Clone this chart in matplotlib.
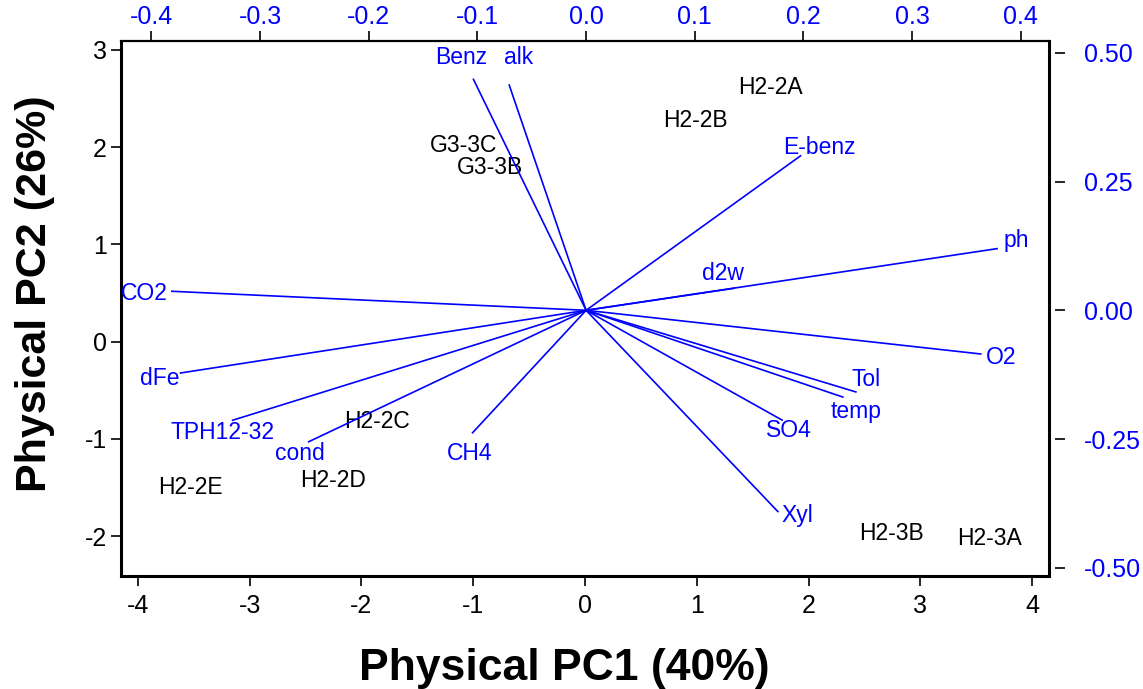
import matplotlib
matplotlib.use("Agg")
import matplotlib.pyplot as plt

plt.rcParams['font.family'] = ['Liberation Sans', 'DejaVu Sans']
plt.rcParams['axes.unicode_minus'] = False

# sample scores (physical PC1 / PC2)
samples = ["H2-2A", "H2-2B", "G3-3C", "G3-3B", "H2-2C", "H2-2D", "H2-2E", "H2-3B", "H2-3A"]
score_pc1 = [1.66, 0.99, -1.09, -0.85, -1.86, -2.25, -3.53, 2.74, 3.62]
score_pc2 = [2.61, 2.27, 2.02, 1.79, -0.82, -1.43, -1.50, -1.97, -2.02]

# variable loadings (drawn on the top/right axes)
variables = ["Benz", "alk", "E-benz", "ph", "d2w", "O2", "Tol", "temp",
             "SO4", "Xyl", "CH4", "cond", "TPH12-32", "dFe", "CO2"]
load_pc1 = [-0.104, -0.071, 0.198, 0.379, 0.137, 0.364, 0.249, 0.237,
            0.181, 0.177, -0.105, -0.256, -0.326, -0.374, -0.382]
load_pc2 = [0.450, 0.439, 0.301, 0.120, 0.043, -0.085, -0.159, -0.169,
            -0.214, -0.392, -0.239, -0.256, -0.214, -0.122, 0.037]

# label offsets from arrow tips, in pixels
label_offset = {
    "Benz": (-12, 21), "alk": (10, 27), "E-benz": (18, 8), "ph": (18, 8),
    "d2w": (-12, 15), "O2": (19, -3), "Tol": (9, 13), "temp": (13, -14),
    "SO4": (6, -10), "Xyl": (19, -3), "CH4": (-2, -20), "cond": (-8, -11),
    "TPH12-32": (-9, -12), "dFe": (-20, -5), "CO2": (-27, -2),
}

blue = "#0000ff"
W, H = 1143, 689
fig = plt.figure(figsize=(W / 100, H / 100), dpi=100)
rect = [121 / W, 1 - 576 / H, (1049 - 121) / W, (576 - 41) / H]

ax = fig.add_axes(rect)
ax.set_xlim(-4.15, 4.15)
ax.set_ylim(-2.41, 3.09)
ax.set_xticks(range(-4, 5))
ax.set_yticks(range(-2, 4))
for s in ax.spines.values():
    s.set_linewidth(2.2)
ax.spines['top'].set_linewidth(1.6)
ax.tick_params(axis='x', direction='out', length=7, width=1.2, pad=6,
               labelsize=18, top=False)
ax.tick_params(axis='y', direction='out', length=7, width=1.2, pad=3,
               labelsize=18, right=False)
ax.set_xlabel("Physical PC1 (40%)", fontsize=32, fontweight='bold')
ax.set_ylabel("Physical PC2 (26%)", fontsize=31, fontweight='bold')
ax.xaxis.set_label_coords(0.478, -0.135)
ax.yaxis.set_label_coords(-0.071, 0.527)

for name, x, y in zip(samples, score_pc1, score_pc2):
    ax.text(x, y, name, fontsize=16.5, ha='center', va='center', color='black')

# loadings axes on top/right
ax2 = fig.add_axes(rect, frameon=False)
ax2.set_xlim(-0.428, 0.426)
ax2.set_ylim(-0.516, 0.523)
ax2.xaxis.tick_top()
ax2.yaxis.tick_right()
ax2.spines['right'].set_position(('outward', 4))
ax2.set_xticks([-0.4, -0.3, -0.2, -0.1, 0.0, 0.1, 0.2, 0.3, 0.4])
ax2.set_yticks([-0.5, -0.25, 0.0, 0.25, 0.5])
ax2.set_xticklabels(["%.1f" % v for v in ax2.get_xticks()])
ax2.set_yticklabels(["%.2f" % v for v in ax2.get_yticks()])
ax2.tick_params(axis='x', direction='out', length=7, width=1.2, pad=2,
                labelsize=18, labelcolor=blue)
ax2.tick_params(axis='y', direction='out', length=7, width=1.2, pad=14,
                labelsize=18, labelcolor=blue)

for name, x, y in zip(variables, load_pc1, load_pc2):
    ax2.plot([0, x], [0, y], color=blue, lw=1.2, solid_capstyle='butt')
    dx, dy = label_offset[name]
    ax2.annotate(name, (x, y), xytext=(dx, dy), textcoords='offset pixels',
                 fontsize=16.5, color=blue, ha='center', va='center')

fig.savefig("out.png", dpi=100)
